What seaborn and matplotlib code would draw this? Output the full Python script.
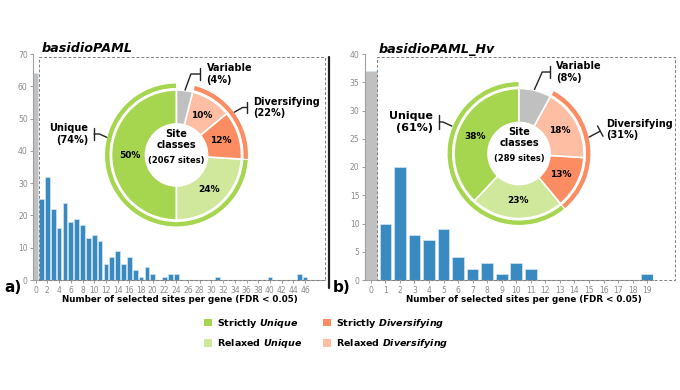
import numpy as np
import pandas as pd
import matplotlib
matplotlib.use('Agg')
import matplotlib.pyplot as plt
from matplotlib.lines import Line2D
from matplotlib.patches import Rectangle, Patch
import seaborn as sns

# genes per number of selected sites (0 = no selected site)
sites_a = list(range(50))
genes_a = [64, 25, 32, 22, 16, 24, 18, 19, 17, 13,
           14, 12, 5, 7, 9, 5, 7, 3, 1, 4,
           2, 0, 1, 2, 2, 0, 0, 0, 0, 0,
           0, 1, 0, 0, 0, 0, 0, 0, 0, 0,
           1, 0, 0, 0, 0, 2, 1, 0, 0, 0]
sites_b = list(range(20))
genes_b = [37, 10, 20, 8, 7, 9, 4, 2, 3, 1, 3, 2, 0, 0, 0, 0, 0, 0, 0, 1]

# site classes (inner ring) and grouped classes (outer ring)
classes = ['Strictly Unique', 'Relaxed Unique', 'Strictly Diversifying',
           'Relaxed Diversifying', 'Variable']
pct_a = [50, 24, 12, 10, 4]
pct_b = [38, 23, 13, 18, 8]
groups = ['Unique', 'Diversifying', 'Variable']
group_pct_a = [74, 22, 4]
group_pct_b = [61, 31, 8]
n_sites_a = 2067
n_sites_b = 289

GREEN = '#a6d54f'
LGREEN = '#cfe89c'
ORANGE = '#fc8d62'
LORANGE = '#fdbea4'
GRAY = '#c0c0c0'
BLUE = '#3a8ac2'

sns.set_theme(style='white')
plt.rcParams['font.family'] = ['DejaVu Sans']
plt.rcParams['mathtext.fontset'] = 'dejavusans'
plt.rcParams['text.color'] = 'black'

W, H = 680, 390
fig = plt.figure(figsize=(W / 100, H / 100), dpi=100)


def fx(px):
    return px / W


def fy(py):
    return 1 - py / H


def draw_hist(ax, sites, genes, ymax, ystep, xticks):
    df = pd.DataFrame({'sites': sites, 'genes': genes})
    df['kind'] = np.where(df['sites'] == 0, 'none', 'selected')
    sns.barplot(data=df, x='sites', y='genes', hue='kind',
                palette={'none': GRAY, 'selected': BLUE}, dodge=False,
                width=0.8, legend=False, ax=ax, saturation=1,
                edgecolor='#d4e5f2', linewidth=0.5)
    ax.set_xlim(-0.4, len(sites) - 0.6)
    ax.set_ylim(0, ymax)
    ax.set_yticks(np.arange(0, ymax + 1, ystep))
    ax.set_xticks(xticks)
    ax.set_xticklabels([str(t) for t in xticks])
    ax.set_xlabel('')
    ax.set_ylabel('')
    sns.despine(ax=ax)
    for s in ['left', 'bottom']:
        ax.spines[s].set_color('#a0a0a0')
        ax.spines[s].set_linewidth(0.8)
    ax.tick_params(axis='both', colors='#8a8a8a', labelsize=5.5, length=2.5,
                   width=0.6, pad=1.5, left=True, bottom=True)


ax_a = fig.add_axes([fx(33.3), fy(280), (325 - 33.3) / W, 226 / H])
draw_hist(ax_a, sites_a, genes_a, 70, 10, list(range(0, 47, 2)))
ax_b = fig.add_axes([fx(365), fy(280), (653 - 365) / W, 226 / H])
draw_hist(ax_b, sites_b, genes_b, 40, 5, list(range(0, 20)))

# dashed frames around the selected-site part
for x0, x1 in [(39, 325), (376.7, 675)]:
    fig.add_artist(Rectangle((fx(x0), fy(280)), (x1 - x0) / W, (280 - 56.7) / H,
                             transform=fig.transFigure, fill=False,
                             ls=(0, (3, 2)), lw=0.7, ec='#808080'))

# divider between panels
fig.add_artist(Line2D([fx(329.3), fx(329.3)], [fy(56.7), fy(288)],
                      transform=fig.transFigure, color='#222222', lw=1.6))


def draw_donut(cx, cy, pct, group_pct, n_sites, notes):
    size = 200
    ax = fig.add_axes([fx(cx - size / 2), fy(cy + size / 2), size / W, size / H])
    inner, _ = ax.pie(pct, radius=65, startangle=90, counterclock=True,
                      colors=[GREEN, LGREEN, ORANGE, LORANGE, GRAY],
                      wedgeprops=dict(width=34, edgecolor='white', linewidth=1.2))
    outer, _ = ax.pie(group_pct, radius=72, startangle=90, counterclock=True,
                      colors=[GREEN, ORANGE, 'none'],
                      wedgeprops=dict(width=5.5, edgecolor='white', linewidth=0.8))
    outer[2].set_visible(False)
    ax.set_xlim(-size / 2, size / 2)
    ax.set_ylim(-size / 2, size / 2)
    ax.axis('off')
    ax.patch.set_alpha(0)

    for w, p in zip(inner[:4], pct[:4]):
        ang = np.deg2rad((w.theta1 + w.theta2) / 2)
        ax.text(47 * np.cos(ang), 47 * np.sin(ang), f'{p}%', ha='center',
                va='center', fontsize=6.5, fontweight='bold', color='black')

    ax.text(0, 5, 'Site\nclasses', ha='center', va='bottom', fontsize=7,
            fontweight='bold', linespacing=1.15)
    ax.text(0, -5, f'({n_sites} sites)', ha='center', va='center',
            fontsize=6, fontweight='bold')

    for label, xy, xytext, ha, angb, fs in notes:
        ax.annotate(label, xy=xy, xytext=xytext, ha=ha, va='center',
                    multialignment=ha, fontsize=fs, fontweight='bold',
                    annotation_clip=False,
                    arrowprops=dict(arrowstyle=']-,widthA=0.6,lengthA=0',
                                    connectionstyle=f'angle,angleA=0,angleB={angb},rad=0',
                                    color='#222222', lw=1.0, shrinkB=0))


def polar(r, deg):
    return (r * np.cos(np.deg2rad(deg)), r * np.sin(np.deg2rad(deg)))


draw_donut(176.5, 155, pct_a, group_pct_a, n_sites_a, [
    (f'Variable\n({group_pct_a[2]}%)', polar(65.5, 82.5), (30, 81), 'left', 70, 7),
    (f'Diversifying\n({group_pct_a[1]}%)', polar(72, 36.5), (77, 47.5), 'left', 30, 7),
    (f'Unique\n({group_pct_a[0]}%)', polar(72, 165.8), (-88.5, 21), 'right', 155, 7),
])
draw_donut(519, 153.5, pct_b, group_pct_b, n_sites_b, [
    (f'Variable\n({group_pct_b[2]}%)', polar(66, 76.4), (37, 81.5), 'left', 66, 7),
    (f'Diversifying\n({group_pct_b[1]}%)', polar(72, 13.2), (87, 24), 'left', 28, 7),
    (f'Unique\n({group_pct_b[0]}%)', polar(72.5, 157.8), (-85.7, 31.5), 'right', 155, 8),
])

# titles, panel letters and axis labels
fig.text(fx(42), fy(49), 'basidioPAML', fontsize=9.2, fontweight='bold',
         fontstyle='italic', ha='left', va='center')
fig.text(fx(379), fy(50), 'basidioPAML_Hv', fontsize=9.2, fontweight='bold',
         fontstyle='italic', ha='left', va='center')
fig.text(fx(4), fy(287), 'a)', fontsize=11, fontweight='bold', ha='left', va='center')
fig.text(fx(333), fy(287), 'b)', fontsize=11, fontweight='bold', ha='left', va='center')
xlab = 'Number of selected sites per gene (FDR < 0.05)'
fig.text(fx(180), fy(300), xlab, fontsize=6.3, fontweight='bold', ha='center', va='center')
fig.text(fx(524), fy(300), xlab, fontsize=6.3, fontweight='bold', ha='center', va='center')

# legend
handles = [Patch(facecolor=c, edgecolor='none') for c in [GREEN, LGREEN, ORANGE, LORANGE]]
labels = ['Strictly $\\mathbfit{Unique}$', 'Relaxed $\\mathbfit{Unique}$',
          'Strictly $\\mathbfit{Diversifying}$', 'Relaxed $\\mathbfit{Diversifying}$']
fig.legend(handles, labels, ncol=2, loc='center',
           bbox_to_anchor=(fx(326), fy(333.5)), frameon=False,
           prop=dict(size=6.8, weight='bold'), handlelength=0.85,
           handleheight=0.85, handletextpad=0.5, columnspacing=2.2,
           labelspacing=0.8, borderpad=0)

fig.savefig('out.png', dpi=100)
